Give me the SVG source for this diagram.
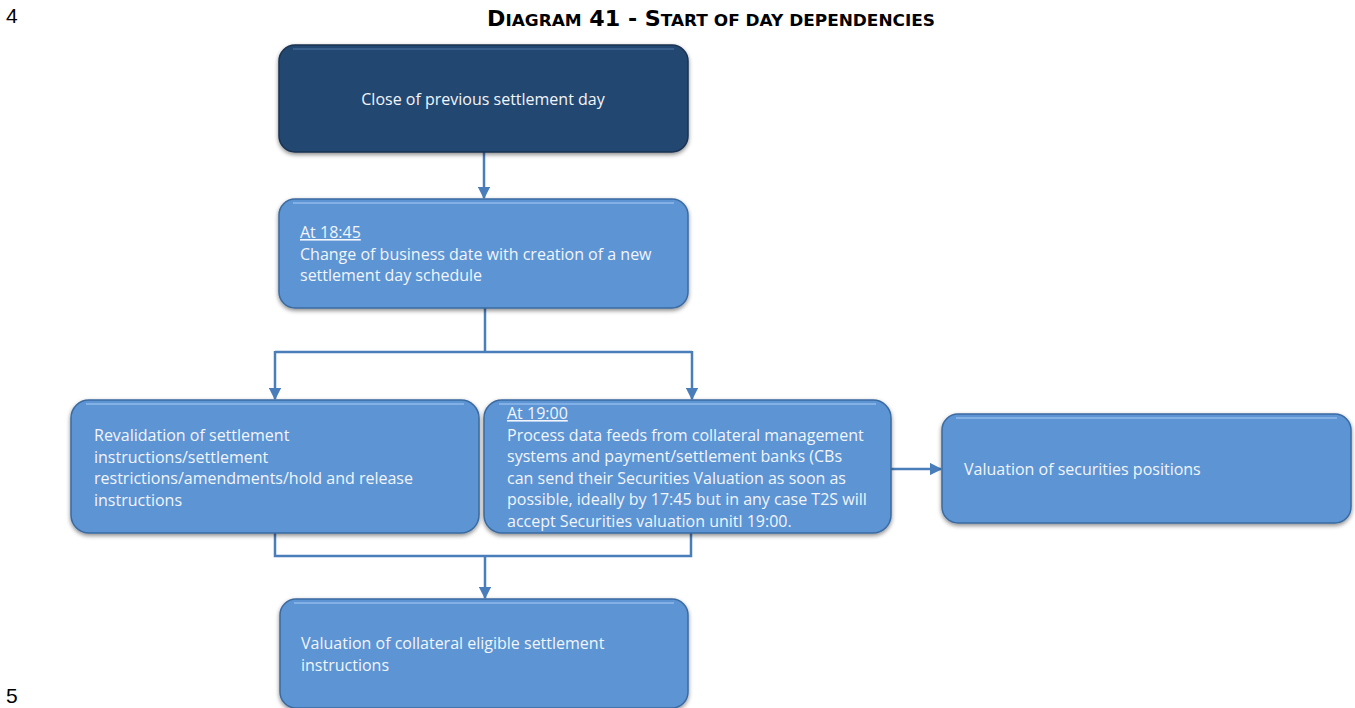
<svg xmlns="http://www.w3.org/2000/svg" width="1355" height="708" viewBox="0 0 1355 708">
<defs>
<style>
.box{fill:#5b94d4;stroke:#3b6aa0;stroke-width:1.5}
.dark{fill:#244771;stroke:#1a3352;stroke-width:1.5}
.hl{fill:none;stroke:#8fb8e8;stroke-width:2;opacity:0.8}
.hld{fill:none;stroke:#3f6594;stroke-width:2;opacity:0.8}
.t{font-family:"Open Sans","Liberation Sans",sans-serif;font-size:16px;fill:#f2f5fa}
.u{text-decoration:underline}
.c{fill:none;stroke:#4a7ebb;stroke-width:2.5}
.title{font-family:"DejaVu Sans",Verdana,sans-serif;font-weight:bold;fill:#000}
.pg{font-family:"Liberation Sans",Arial,sans-serif;font-size:21px;fill:#000}
</style>
<filter id="sh" x="-5%" y="-10%" width="110%" height="125%">
<feDropShadow dx="0" dy="2" stdDeviation="2" flood-color="#000" flood-opacity="0.45"/>
</filter>
<marker id="ah" viewBox="0 0 10 10" refX="9" refY="5" markerWidth="5" markerHeight="5" orient="auto" markerUnits="strokeWidth">
<path d="M0,0 L10,5 L0,10 z" fill="#4a7ebb"/>
</marker>
</defs>
<rect width="1355" height="708" fill="#fff"/>
<text class="pg" x="6" y="23">4</text>
<text class="pg" x="6" y="703">5</text>
<text class="title" x="487" y="26" textLength="448" lengthAdjust="spacingAndGlyphs"><tspan font-size="21">D</tspan><tspan font-size="16">IAGRAM</tspan><tspan font-size="21"> 41 - S</tspan><tspan font-size="16">TART OF DAY DEPENDENCIES</tspan></text>

<g id="connectors">
<path class="c" d="M484,152 V198" marker-end="url(#ah)"/>
<path class="c" d="M485,308 V352"/>
<path class="c" d="M275,352 H692"/>
<path class="c" d="M275,351 V399" marker-end="url(#ah)"/>
<path class="c" d="M692,351 V399" marker-end="url(#ah)"/>
<path class="c" d="M275,533 V556 H691 V533"/>
<path class="c" d="M485,556 V598" marker-end="url(#ah)"/>
<path class="c" d="M891,469 H941" marker-end="url(#ah)"/>
</g>

<g id="n1">
<rect class="dark" x="279" y="45" width="409" height="107" rx="16" filter="url(#sh)"/>
<path class="hld" d="M293,49 H674"/>
<text class="t" x="483" y="105" text-anchor="middle">Close of previous settlement day</text>
</g>

<g id="n2">
<rect class="box" x="279" y="199" width="409" height="109" rx="16" filter="url(#sh)"/>
<path class="hl" d="M293,203 H674"/>
<text class="t" x="300" y="238"><tspan class="u">At 18:45</tspan><tspan x="300" dy="21.5">Change of business date with creation of a new</tspan><tspan x="300" dy="21.5">settlement day schedule</tspan></text>
</g>

<g id="n3">
<rect class="box" x="71" y="400" width="408" height="133" rx="18" filter="url(#sh)"/>
<path class="hl" d="M86,404 H464"/>
<text class="t" x="94" y="441"><tspan>Revalidation of settlement</tspan><tspan x="94" dy="21.5">instructions/settlement</tspan><tspan x="94" dy="21.5">restrictions/amendments/hold and release</tspan><tspan x="94" dy="21.5">instructions</tspan></text>
</g>

<g id="n4">
<rect class="box" x="484" y="400" width="407" height="133" rx="18" filter="url(#sh)"/>
<path class="hl" d="M499,404 H876"/>
<text class="t" x="507" y="419"><tspan class="u">At 19:00</tspan><tspan x="507" dy="21.5">Process data feeds from collateral management</tspan><tspan x="507" dy="21.5">systems and payment/settlement banks (CBs</tspan><tspan x="507" dy="21.5">can send their Securities Valuation as soon as</tspan><tspan x="507" dy="21.5">possible, ideally by 17:45 but in any case T2S will</tspan><tspan x="507" dy="21.5">accept Securities valuation unitl 19:00.</tspan></text>
</g>

<g id="n5">
<rect class="box" x="942" y="414" width="409" height="109" rx="16" filter="url(#sh)"/>
<path class="hl" d="M956,418 H1337"/>
<text class="t" x="964" y="475">Valuation of securities positions</text>
</g>

<g id="n6">
<rect class="box" x="280" y="599" width="408" height="109" rx="16" filter="url(#sh)"/>
<path class="hl" d="M294,603 H674"/>
<text class="t" x="301" y="649"><tspan>Valuation of collateral eligible settlement</tspan><tspan x="301" dy="21.5">instructions</tspan></text>
</g>
</svg>
